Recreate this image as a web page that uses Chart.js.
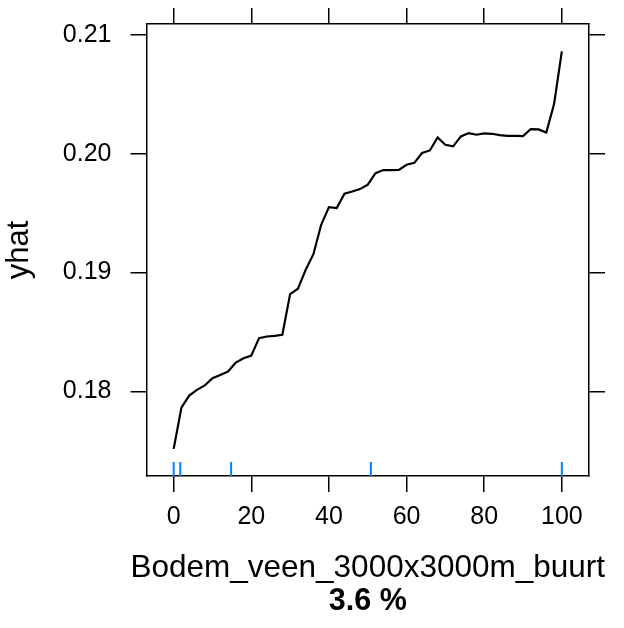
<!DOCTYPE html>
<html>
<head>
<meta charset="utf-8">
<script src="https://cdn.jsdelivr.net/npm/chart.js@4.4.0/dist/chart.umd.min.js"></script>
<style>
  html, body { margin: 0; padding: 0; background: #fff; }
  #wrap { width: 624px; height: 628px; }
</style>
</head>
<body>
<div id="wrap"><canvas id="mycanvas" width="624" height="628"></canvas></div>
<script>
// partial dependence values
var veen = [0, 2, 4, 6, 8, 10, 12, 14, 16, 18, 20, 22, 24, 26, 28, 30, 32, 34, 36, 38, 40,
            42, 44, 46, 48, 50, 52, 54, 56, 58, 60, 62, 64, 66, 68, 70, 72, 74, 76, 78, 80,
            82, 84, 86, 88, 90, 92, 94, 96, 98, 100];
var yhat = [0.17518, 0.17865, 0.17966, 0.18014, 0.18051, 0.18112, 0.18140, 0.18168, 0.18244, 0.18280,
            0.18303, 0.18449, 0.18463, 0.18468, 0.18477, 0.18819, 0.18864, 0.19023, 0.19155, 0.19402,
            0.19550, 0.19542, 0.19663, 0.19682, 0.19702, 0.19740, 0.19836, 0.19862, 0.19862, 0.19864,
            0.19907, 0.19923, 0.20005, 0.20027, 0.20136, 0.20075, 0.20061, 0.20145, 0.20173, 0.20159,
            0.20170, 0.20167, 0.20156, 0.20150, 0.20150, 0.20148, 0.20207, 0.20204, 0.20178, 0.20417,
            0.20860];
// rug marks (observed values)
var rugX = [0, 1.7, 14.8, 50.8, 100];
var xTicks = [0, 20, 40, 60, 80, 100];
var yTicks = [0.18, 0.19, 0.20, 0.21];
var xLabel = 'Bodem_veen_3000x3000m_buurt';
var importance = '3.6 %';

var xMin = -7, xMax = 107;
var yMin = 0.1729, yMax = 0.2109;

var FONT = "'Liberation Sans', Arial, sans-serif";
Chart.defaults.font.family = FONT;
Chart.defaults.color = '#000';

var pts = [];
for (var i = 0; i < veen.length; i++) {
  pts.push({x: veen[i], y: yhat[i]});
}

var rugPlugin = {
  id: 'rug',
  afterDatasetsDraw: function(chart) {
    var ctx = chart.ctx, xs = chart.scales.x, area = chart.chartArea;
    ctx.save();
    ctx.strokeStyle = '#0080ff';
    ctx.lineWidth = 2;
    for (var j = 0; j < rugX.length; j++) {
      var px = xs.getPixelForValue(rugX[j]);
      ctx.beginPath();
      ctx.moveTo(px, area.bottom);
      ctx.lineTo(px, area.bottom - 14);
      ctx.stroke();
    }
    ctx.restore();
  }
};

// x label + importance line, centred under the panel (no maxWidth squeeze)
var xLabelPlugin = {
  id: 'xlabel',
  afterDraw: function(chart) {
    var ctx = chart.ctx, area = chart.chartArea;
    var cx = (area.left + area.right) / 2;
    ctx.save();
    ctx.fillStyle = '#000';
    ctx.textAlign = 'center';
    ctx.textBaseline = 'alphabetic';
    ctx.font = '31.5px ' + FONT;
    ctx.fillText(xLabel, cx, 577);
    ctx.font = 'bold 30.5px ' + FONT;
    ctx.fillText(importance, cx, 610);
    ctx.restore();
  }
};

var boxGrid = {drawOnChartArea: false, drawTicks: true, tickLength: 16, color: '#000', lineWidth: 1.5};
var boxBorder = {display: true, color: '#000', width: 1.5};

function fixedTicks(list) {
  return function(scale) {
    scale.ticks = list.map(function(v) { return {value: v}; });
  };
}
function noPad(s) {
  s.paddingTop = 0; s.paddingBottom = 0; s.paddingLeft = 0; s.paddingRight = 0;
}

var LineGraph = new Chart(document.getElementById('mycanvas'), {
  type: 'scatter',
  data: {
    datasets: [{
      data: pts,
      showLine: true,
      borderColor: '#000',
      borderWidth: 2.2,
      pointRadius: 0,
      tension: 0,
      fill: false
    }]
  },
  options: {
    responsive: false,
    animation: false,
    layout: {padding: {top: 8, right: 19, bottom: 0, left: 0}},
    plugins: {
      legend: {display: false},
      tooltip: {enabled: false},
      title: {display: false}
    },
    scales: {
      x: {
        type: 'linear', position: 'bottom', min: xMin, max: xMax,
        afterBuildTicks: fixedTicks(xTicks),
        afterFit: function(s) { s.height = 152; noPad(s); },
        grid: boxGrid, border: boxBorder,
        ticks: {font: {size: 25}, padding: 10, maxRotation: 0}
      },
      x2: {
        type: 'linear', position: 'top', min: xMin, max: xMax,
        afterBuildTicks: fixedTicks(xTicks),
        afterFit: noPad,
        grid: boxGrid, border: boxBorder,
        ticks: {display: false}
      },
      y: {
        type: 'linear', position: 'left', min: yMin, max: yMax,
        afterBuildTicks: fixedTicks(yTicks),
        afterFit: function(s) { s.width = 146.5; noPad(s); },
        grid: boxGrid, border: boxBorder,
        ticks: {font: {size: 25}, padding: 19, callback: function(v) { return v.toFixed(2); }},
        title: {display: true, text: 'yhat', font: {size: 31, lineHeight: 1.2}, padding: {top: 1, bottom: 0}}
      },
      y2: {
        type: 'linear', position: 'right', min: yMin, max: yMax,
        afterBuildTicks: fixedTicks(yTicks),
        afterFit: noPad,
        grid: boxGrid, border: boxBorder,
        ticks: {display: false}
      }
    }
  },
  plugins: [rugPlugin, xLabelPlugin]
});
</script>
</body>
</html>
